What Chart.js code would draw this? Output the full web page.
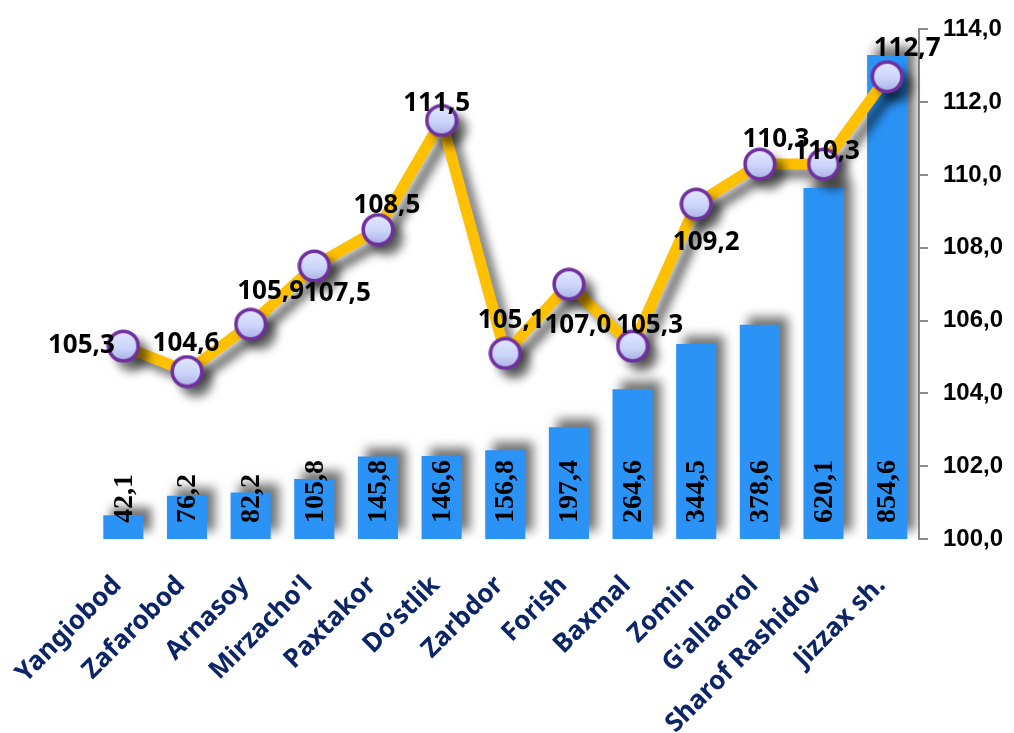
<!DOCTYPE html>
<html>
<head>
<meta charset="utf-8">
<script src="https://cdn.jsdelivr.net/npm/chart.js@4.4.1/dist/chart.umd.min.js"></script>
<style>
  html, body { margin: 0; padding: 0; background: #fff; }
  #wrap { width: 1014px; height: 733px; position: relative; }
</style>
</head>
<body>
<div id="wrap"><canvas id="chart"></canvas></div>
<script>
// Districts
const districts = [
  "Yangiobod", "Zafarobod", "Arnasoy", "Mirzacho'l", "Paxtakor", "Do‘stlik",
  "Zarbdor", "Forish", "Baxmal", "Zomin", "G'allaorol", "Sharof Rashidov", "Jizzax sh."
];
// Bar series (left, hidden axis)
const volumes = [42.1, 76.2, 82.2, 105.8, 145.8, 146.6, 156.8, 197.4, 264.6, 344.5, 378.6, 620.1, 854.6];
// Line series (right axis, %)
const growth = [105.3, 104.6, 105.9, 107.5, 108.5, 111.5, 105.1, 107.0, 105.3, 109.2, 110.3, 110.3, 112.7];
// Right axis ticks
const rightTicks = [100, 102, 104, 106, 108, 110, 112, 114];

// label nudges for the line values (px from point centre)
const lineLabelShift = [
  [-42, 0], [-1, -28], [20, -33], [23, 28], [9, -24], [-5, -17], [6, -33],
  [9, 41], [17, -20], [10, 38], [16, -24], [3, -12], [20, -28]
];

const fmt = (v) => v.toFixed(1).replace(".", ",");

/* ── marker image: lavender ball with purple ring ── */
function makeMarker() {
  const r = 17;
  const c = document.createElement("canvas");
  c.width = c.height = r * 2;
  const g = c.getContext("2d");
  const grad = g.createLinearGradient(0, 2, 0, r * 2 - 2);
  grad.addColorStop(0, "#e2e8ff");
  grad.addColorStop(0.55, "#ccd5fa");
  grad.addColorStop(1, "#a9b0e4");
  g.beginPath();
  g.arc(r, r, r - 2.2, 0, Math.PI * 2);
  g.fillStyle = grad;
  g.fill();
  g.lineWidth = 3.6;
  g.strokeStyle = "#7030A0";
  g.stroke();
  return c;
}
const marker = makeMarker();

/* ── shadows behind bars and the line ── */
const shadowPlugin = {
  id: "shadows",
  beforeDatasetDraw(chart, args) {
    const ctx = chart.ctx;
    ctx.save();
    ctx.shadowColor = "rgba(0,0,0,0.55)";
    ctx.shadowBlur = 10;
    if (args.meta.type === "bar") {
      ctx.shadowOffsetX = 8;
      ctx.shadowOffsetY = -8;
    } else {
      ctx.shadowOffsetX = 9;
      ctx.shadowOffsetY = 9;
    }
  },
  afterDatasetDraw(chart) {
    chart.ctx.restore();
  },
};

/* ── value labels ── */
const labelPlugin = {
  id: "valueLabels",
  afterDatasetsDraw(chart) {
    const ctx = chart.ctx;
    const base = chart.scales.y.getPixelForValue(0);

    // bar values, vertical, from the base up
    const barMeta = chart.getDatasetMeta(1);
    ctx.save();
    ctx.fillStyle = "#000";
    ctx.font = "bold 28px 'Liberation Serif'";
    ctx.textAlign = "left";
    ctx.textBaseline = "middle";
    barMeta.data.forEach((bar, i) => {
      ctx.save();
      ctx.translate(bar.x, base - 16);
      ctx.rotate(-Math.PI / 2);
      ctx.fillText(fmt(volumes[i]), 0, 1);
      ctx.restore();
    });
    ctx.restore();

    // line values
    const lineMeta = chart.getDatasetMeta(0);
    ctx.save();
    ctx.fillStyle = "#000";
    ctx.font = "bold 26px 'Noto Sans'";
    ctx.textAlign = "center";
    ctx.textBaseline = "middle";
    lineMeta.data.forEach((pt, i) => {
      const [dx, dy] = lineLabelShift[i];
      ctx.fillText(fmt(growth[i]), pt.x + dx, pt.y + dy);
    });
    ctx.restore();
  },
};

new Chart(document.getElementById("chart"), {
  data: {
    labels: districts,
    datasets: [
      {
        type: "line",
        data: growth,
        yAxisID: "y1",
        borderColor: "#FFC000",
        borderWidth: 11,
        pointStyle: marker,
        pointRadius: 17,
        tension: 0,
      },
      {
        type: "bar",
        data: volumes,
        yAxisID: "y",
        backgroundColor: "#2B93F6",
        barPercentage: 0.63,
        categoryPercentage: 1,
      },
    ],
  },
  options: {
    responsive: true,
    maintainAspectRatio: false,
    animation: false,
    layout: { padding: { left: 90, top: 24, right: 0 } },
    plugins: {
      legend: { display: false },
      tooltip: { enabled: false },
    },
    scales: {
      x: {
        grid: { display: false },
        border: { display: false },
        ticks: {
          color: "#0B2566",
          font: { family: "'Noto Sans'", size: 26, weight: "bold" },
          minRotation: 45,
          maxRotation: 45,
          padding: 23,
          labelOffset: -6,
        },
        afterFit: (scale) => { scale.height = 194; },
      },
      y: {
        display: false,
        min: 0,
        max: 900,
      },
      y1: {
        position: "right",
        min: 100,
        max: 114,
        grid: { drawOnChartArea: false, color: "#8c8c8c", tickLength: 9, lineWidth: 2 },
        border: { color: "#8c8c8c", width: 2 },
        afterBuildTicks: (scale) => { scale.ticks = rightTicks.map((v) => ({ value: v })); },
        afterFit: (scale) => { scale.width = 95; },
        ticks: {
          color: "#000",
          padding: 15,
          font: { family: "'Liberation Sans'", size: 24, weight: "bold" },
          callback: (v) => fmt(v),
        },
      },
    },
  },
  plugins: [shadowPlugin, labelPlugin],
});
</script>
</body>
</html>
